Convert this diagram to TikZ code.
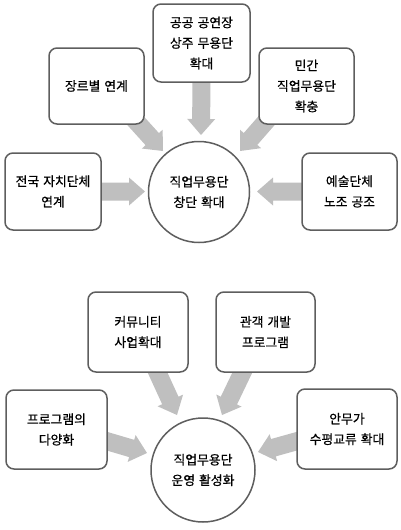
\documentclass[tikz,border=0pt]{standalone}
\usepackage{fontspec}
\setmainfont{Noto Sans CJK KR}[RawFeature={embolden=0.7}, WordSpace=1.4]
\usetikzlibrary{calc,backgrounds}
\definecolor{bordergray}{HTML}{5E5E5E}
\definecolor{arrowgray}{HTML}{BFBFBF}
\tikzset{
  box/.style={draw=bordergray, line width=1.5pt, rounded corners=8pt, fill=white,
    align=center, inner sep=0pt, font=\fontsize{12.8}{20.5}\selectfont},
  hub/.style={draw=bordergray, line width=1.5pt, circle, fill=white,
    align=center, inner sep=0pt, font=\fontsize{12.8}{20.5}\selectfont},
  blk/.style={fill=arrowgray},
}
% #1 tail, #2 tip, #3 id
\newcommand\blockarrow[3]{%
  \coordinate (#3b) at ($(#2)!16pt!(#1)$);
  \fill[blk] ($(#1)!9pt!90:(#2)$) -- ($(#3b)!9pt!90:(#2)$) -- ($(#3b)!14pt!90:(#2)$)
    -- (#2) -- ($(#3b)!14pt!-90:(#2)$) -- ($(#3b)!9pt!-90:(#2)$) -- ($(#1)!9pt!-90:(#2)$) -- cycle;
}
\begin{document}
\begin{tikzpicture}[x=1pt,y=-1pt]
\useasboundingbox (0,0) rectangle (400,530);
% ---- top diagram
\node[hub, minimum size=101pt] (h1) at (199,192) {직업무용단\\창단 확대};
\node[box, minimum width=97pt, minimum height=78pt] (b1) at (201.5,43) {공공 공연장\\상주 무용단\\확대};
\node[box, minimum width=95pt, minimum height=76pt] (b2) at (96.5,86) {장르별 연계};
\node[box, minimum width=95pt, minimum height=76pt] (b3) at (306.5,86) {민간\\직업무용단\\확충};
\node[box, minimum width=96pt, minimum height=77pt] (b4) at (53,191.5) {전국 자치단체\\연계};
\node[box, minimum width=95pt, minimum height=77pt] (b5) at (349.5,191.5) {예술단체\\노조 공조};
\coordinate (t1) at ($(b1.south)+(0,-4)$);
\coordinate (p1) at (201,135);
\coordinate (t2) at (134,119);
\coordinate (p2) at (163,151);
\coordinate (t3) at (268,119);
\coordinate (p3) at (240,151);
\coordinate (t4) at ($(b4.east)+(-4,0)$);
\coordinate (p4) at (145,191.5);
\coordinate (t5) at ($(b5.west)+(4,0)$);
\coordinate (p5) at (257,191.5);
% ---- bottom diagram
\node[hub, minimum size=104pt] (h2) at (203,470) {직업무용단\\운영 활성화};
\node[box, minimum width=100pt, minimum height=80pt] (c1) at (138,332) {커뮤니티\\사업확대};
\node[box, minimum width=99pt, minimum height=80pt] (c2) at (265.5,332) {관객 개발\\프로그램};
\node[box, minimum width=101pt, minimum height=79pt] (c3) at (56.5,429.5) {프로그램의\\다양화};
\node[box, minimum width=100pt, minimum height=80pt] (c4) at (347,429) {안무가\\수평교류 확대};
\coordinate (s1) at (155,367);
\coordinate (q1) at (177,415);
\coordinate (s2) at (245,367);
\coordinate (q2) at (222,415);
\coordinate (s3) at (103,440);
\coordinate (q3) at (147,453);
\coordinate (s4) at (301,440);
\coordinate (q4) at (258,452);
\begin{scope}[on background layer]
  \blockarrow{t1}{p1}{a1}
  \blockarrow{t2}{p2}{a2}
  \blockarrow{t3}{p3}{a3}
  \blockarrow{t4}{p4}{a4}
  \blockarrow{t5}{p5}{a5}
  \blockarrow{s1}{q1}{d1}
  \blockarrow{s2}{q2}{d2}
  \blockarrow{s3}{q3}{d3}
  \blockarrow{s4}{q4}{d4}
\end{scope}
\end{tikzpicture}
\end{document}
